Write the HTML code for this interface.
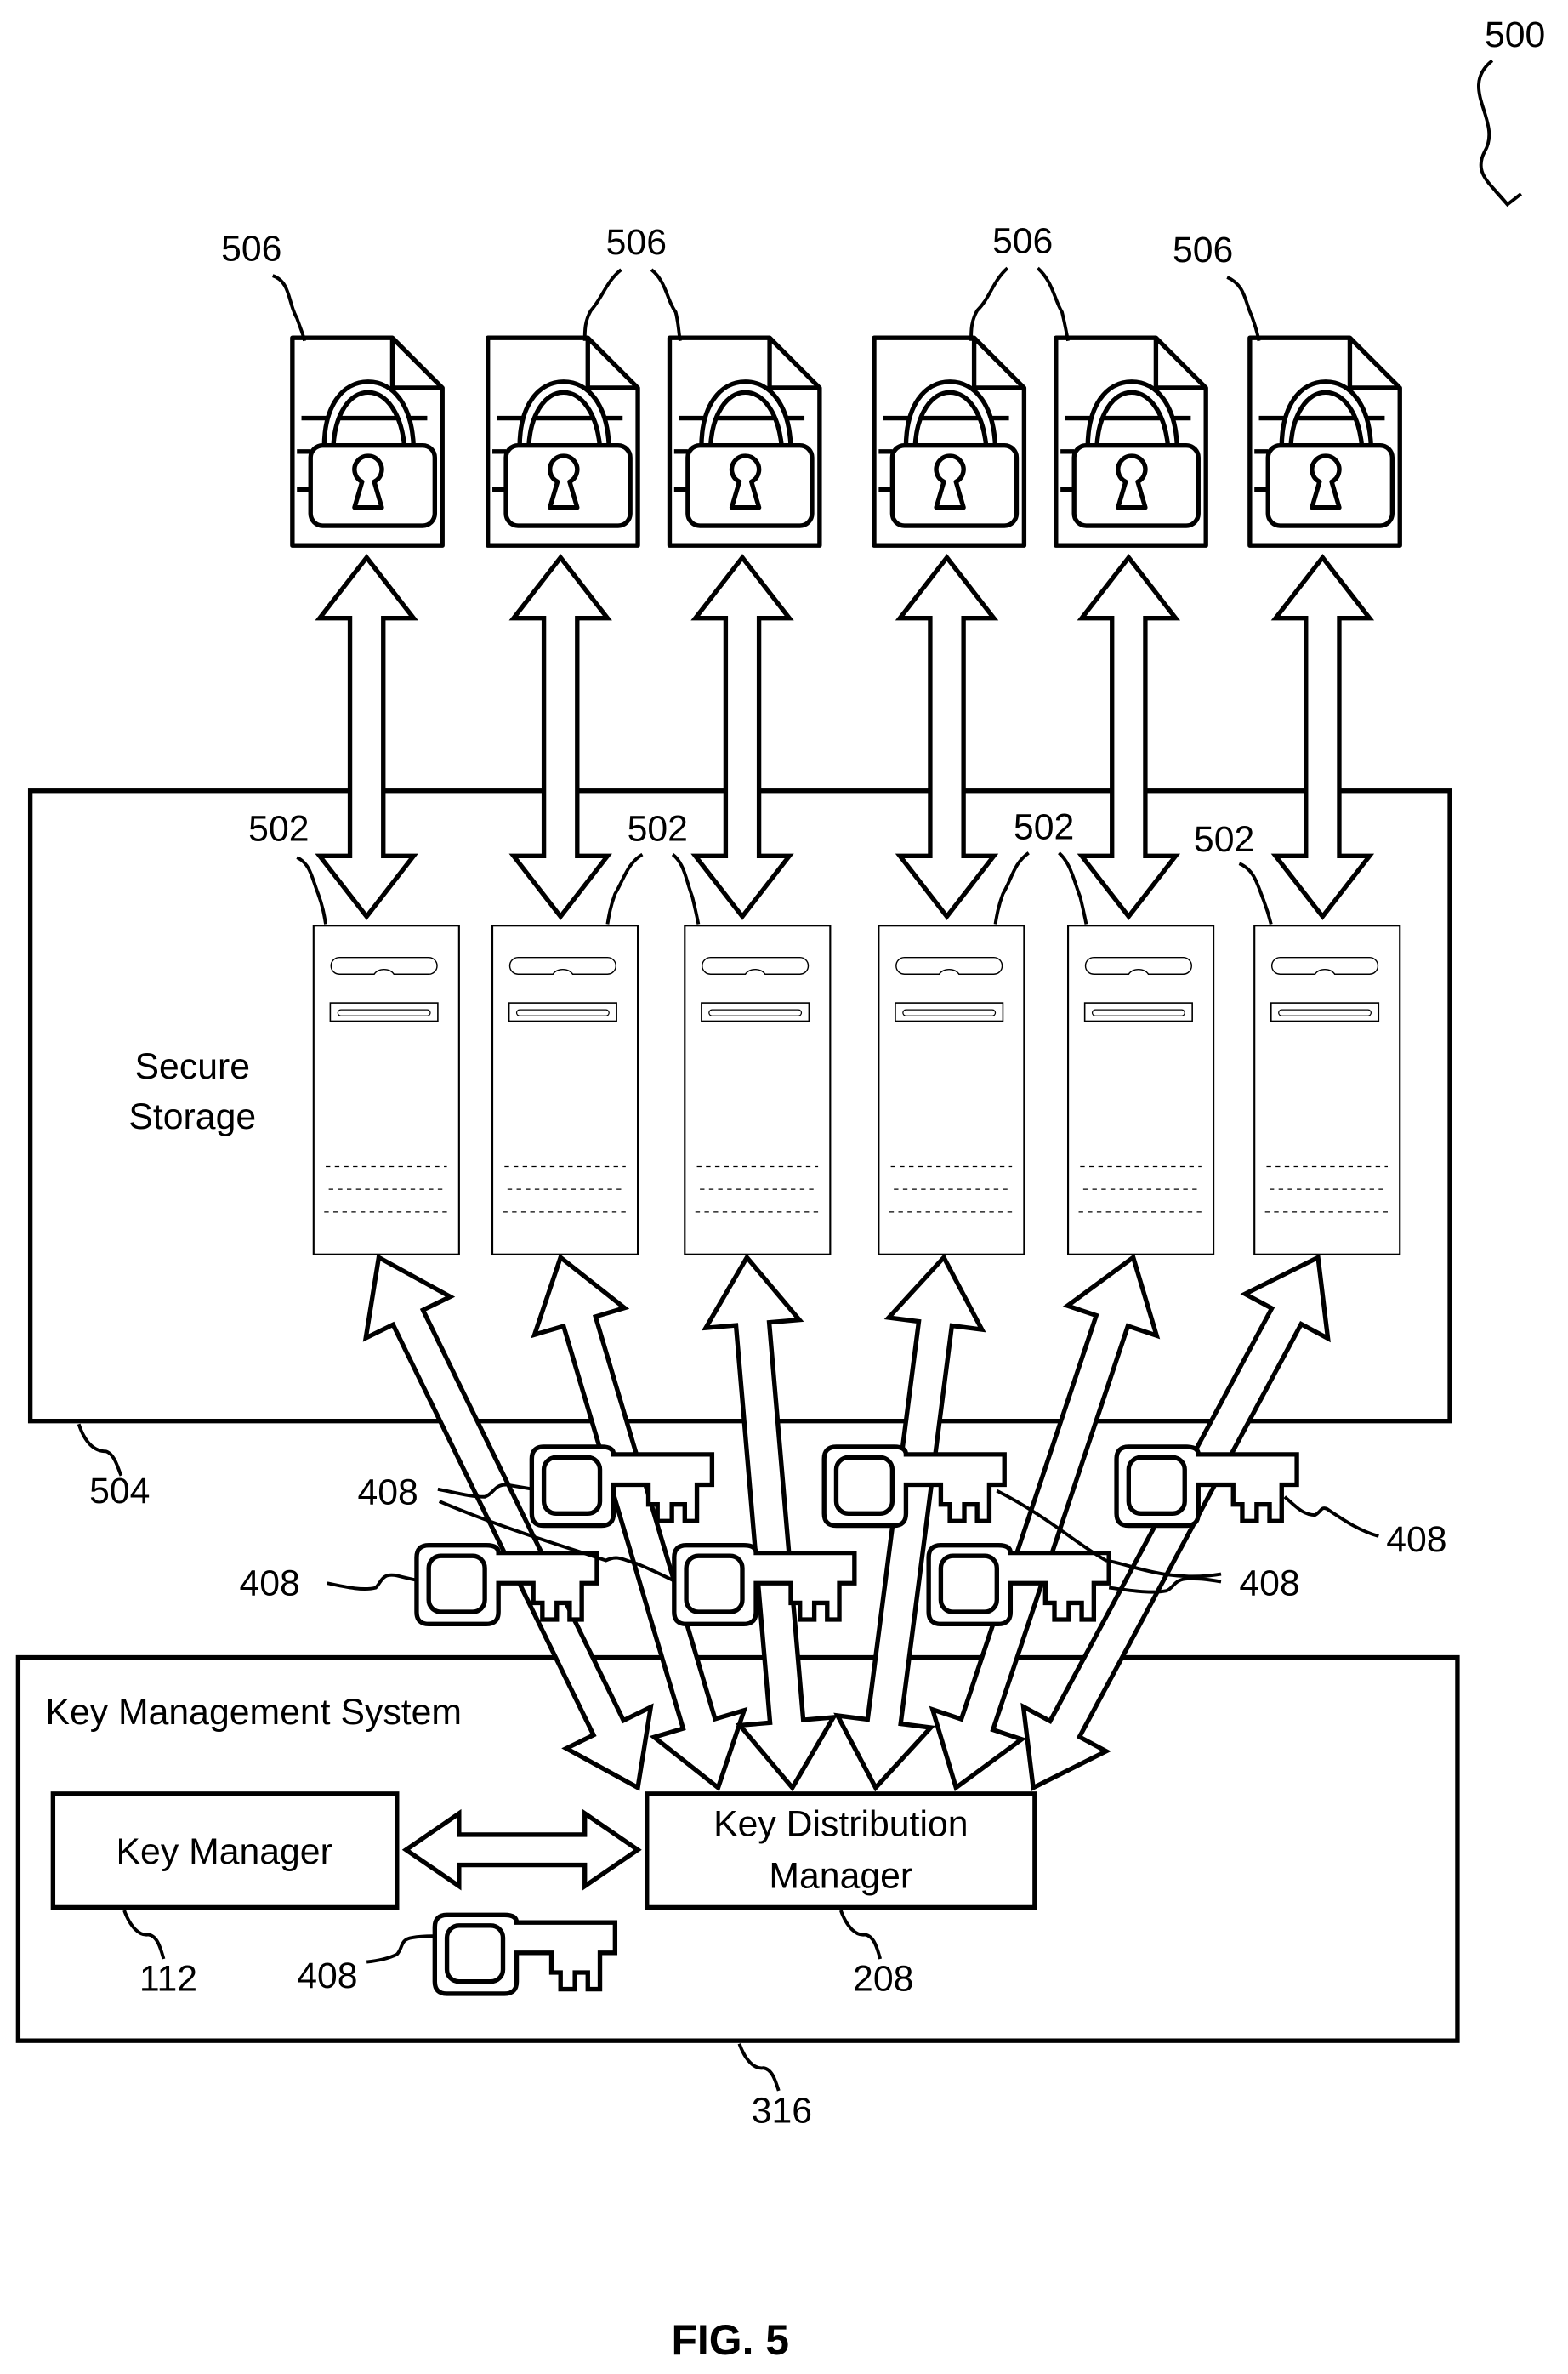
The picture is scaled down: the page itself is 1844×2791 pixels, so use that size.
<!DOCTYPE html>
<html><head><meta charset="utf-8"><style>
html,body{margin:0;padding:0;background:#fff;}
svg{display:block;}
text{font-family:"Liberation Sans",sans-serif;fill:#000;}
</style></head><body>
<svg width="1844" height="2791" viewBox="0 0 1035 1567" preserveAspectRatio="none" xmlns="http://www.w3.org/2000/svg">
<defs>
<g id="doc">
<path d="M0,0 H66 L99,33 V137 H0 Z" fill="#fff" stroke="#000" stroke-width="3" stroke-linejoin="round"/>
<path d="M66,0 V33 H99" fill="none" stroke="#000" stroke-width="3"/>
<path d="M6,53 H89" stroke="#000" stroke-width="3"/>
<path d="M3,75 H12 M3,100 H12" stroke="#000" stroke-width="3"/>
<path d="M21,72 C21,45 33,29 50,29 C67,29 79,45 80,72 L74,72 C72,50 62,36 50,36 C38,36 28,50 27,72 Z" fill="#fff" stroke="#000" stroke-width="3" stroke-linejoin="round"/>
<rect x="12" y="71" width="82" height="53" rx="8" fill="#fff" stroke="#000" stroke-width="3"/>
<path d="M46,95 A9,9 0 1 1 54,95 L59,112 H41 Z" fill="#fff" stroke="#000" stroke-width="3" stroke-linejoin="round"/>
</g>
<g id="srv">
<rect x="0" y="0" width="96" height="217" fill="#fff" stroke="#000" stroke-width="1.2"/>
<path d="M17,21 H76 A5.5,5.5 0 0 1 76,32 H53 A7,5 0 0 0 40,32 H17 A5.5,5.5 0 0 1 17,21 Z" fill="none" stroke="#000" stroke-width="0.8"/>
<rect x="11" y="51" width="71" height="12" fill="none" stroke="#000" stroke-width="0.9"/>
<rect x="16" y="55.5" width="61" height="4" rx="2" fill="none" stroke="#000" stroke-width="0.7"/>
<path d="M8,159 H88 M10,174 H88 M7,189 H89" stroke="#000" stroke-width="0.7" stroke-dasharray="3,3"/>
</g>
<g id="key">
<path d="M8,0 H46 Q54,0 54,5 H119 V25 H109 V49 H101 V38 H92.5 V49 H83 V38 H77 V25 H54 V44 Q54,52 46,52 H8 Q0,52 0,44 V8 Q0,0 8,0 Z" fill="#fff" stroke="#000" stroke-width="3" stroke-linejoin="miter"/>
<rect x="8" y="7" width="37" height="37" rx="8" fill="#fff" stroke="#000" stroke-width="3"/>
</g>
</defs>

<text x="980" y="31" font-size="24">500</text>
<path d="M985,40 C962,58 992,80 980,100 C972,115 985,122 995,135" fill="none" stroke="#000" stroke-width="2.2"/>
<path d="M987,126 L995,135 L1004,128" fill="none" stroke="#000" stroke-width="2.2"/>

<use href="#doc" x="193" y="223"/>
<use href="#doc" x="322" y="223"/>
<use href="#doc" x="442" y="223"/>
<use href="#doc" x="577" y="223"/>
<use href="#doc" x="697" y="223"/>
<use href="#doc" x="825" y="223"/>

<g font-size="24">
<text x="146" y="172">506</text>
<text x="400" y="168">506</text>
<text x="655" y="167">506</text>
<text x="774" y="173">506</text>
</g>
<g fill="none" stroke="#000" stroke-width="2.2">
<path d="M180,182 C192,186 190,200 196,210 C198,216 200,220 201,225"/>
<path d="M410,178 C400,186 398,196 390,205 C386,212 386,218 386,225"/>
<path d="M430,178 C440,186 440,198 446,206 C448,214 448,220 449,225"/>
<path d="M665,177 C655,186 654,196 645,205 C641,212 641,218 641,225"/>
<path d="M685,177 C695,186 696,198 701,206 C703,214 704,220 705,225"/>
<path d="M810,183 C822,188 822,200 826,208 C829,216 830,220 831,225"/>
</g>

<rect x="20" y="522" width="937" height="416" fill="#fff" stroke="#000" stroke-width="3"/>
<text x="127" y="712" font-size="24" text-anchor="middle">Secure</text>
<text x="127" y="745" font-size="24" text-anchor="middle">Storage</text>

<use href="#srv" x="207" y="611"/>
<use href="#srv" x="325" y="611"/>
<use href="#srv" x="452" y="611"/>
<use href="#srv" x="580" y="611"/>
<use href="#srv" x="705" y="611"/>
<use href="#srv" x="828" y="611"/>

<g fill="#fff" stroke="#000" stroke-width="3" stroke-linejoin="miter">
<g transform="translate(242,368) rotate(90)"><polygon points="0,0 40,-31 40,-11 197,-11 197,-31 237,0 197,31 197,11 40,11 40,31"/></g>
<g transform="translate(370,368) rotate(90)"><polygon points="0,0 40,-31 40,-11 197,-11 197,-31 237,0 197,31 197,11 40,11 40,31"/></g>
<g transform="translate(490,368) rotate(90)"><polygon points="0,0 40,-31 40,-11 197,-11 197,-31 237,0 197,31 197,11 40,11 40,31"/></g>
<g transform="translate(625,368) rotate(90)"><polygon points="0,0 40,-31 40,-11 197,-11 197,-31 237,0 197,31 197,11 40,11 40,31"/></g>
<g transform="translate(745,368) rotate(90)"><polygon points="0,0 40,-31 40,-11 197,-11 197,-31 237,0 197,31 197,11 40,11 40,31"/></g>
<g transform="translate(873,368) rotate(90)"><polygon points="0,0 40,-31 40,-11 197,-11 197,-31 237,0 197,31 197,11 40,11 40,31"/></g>
</g>

<g font-size="24">
<text x="164" y="555">502</text>
<text x="414" y="555">502</text>
<text x="669" y="554">502</text>
<text x="788" y="562">502</text>
</g>
<g fill="none" stroke="#000" stroke-width="2.2">
<path d="M196,566 C205,570 206,580 210,590 C213,598 214,604 215,610"/>
<path d="M424,564 C414,570 412,580 406,590 C403,598 402,604 401,610"/>
<path d="M444,564 C452,570 453,582 457,592 C459,600 460,605 461,610"/>
<path d="M679,563 C669,570 668,580 662,590 C659,598 658,604 657,610"/>
<path d="M699,563 C707,570 709,582 713,592 C715,600 716,605 717,610"/>
<path d="M818,570 C828,574 830,584 834,594 C837,602 838,606 839,610"/>
</g>

<path d="M52,940 C56,952 62,958 70,958 C76,960 78,970 80,974" fill="none" stroke="#000" stroke-width="2.2"/>
<text x="59" y="992" font-size="24">504</text>

<rect x="12" y="1094" width="950" height="253" fill="#fff" stroke="#000" stroke-width="3"/>
<text x="30" y="1138" font-size="24">Key Management System</text>

<g fill="#fff" stroke="#000" stroke-width="3" stroke-linejoin="miter">
<g transform="translate(250,830) rotate(63.96)"><polygon points="0,0 44,-31 44,-11 345.5,-11 345.5,-31 389.5,0 345.5,31 345.5,11 44,11 44,31"/></g>
<g transform="translate(370,830) rotate(73.45)"><polygon points="0,0 44,-31 44,-11 321.1,-11 321.1,-31 365.1,0 321.1,31 321.1,11 44,11 44,31"/></g>
<g transform="translate(493,830) rotate(85.10)"><polygon points="0,0 44,-31 44,-11 307.3,-11 307.3,-31 351.3,0 307.3,31 307.3,11 44,11 44,31"/></g>
<g transform="translate(623,830) rotate(97.33)"><polygon points="0,0 44,-31 44,-11 308.9,-11 308.9,-31 352.9,0 308.9,31 308.9,11 44,11 44,31"/></g>
<g transform="translate(748,830) rotate(108.48)"><polygon points="0,0 44,-31 44,-11 325,-11 325,-31 369,0 325,31 325,11 44,11 44,31"/></g>
<g transform="translate(870,830) rotate(118.24)"><polygon points="0,0 44,-31 44,-11 353.3,-11 353.3,-31 397.3,0 353.3,31 353.3,11 44,11 44,31"/></g>
</g>

<use href="#key" x="351" y="955"/>
<use href="#key" x="544" y="955"/>
<use href="#key" x="737" y="955"/>
<use href="#key" x="275" y="1020"/>
<use href="#key" x="445" y="1020"/>
<use href="#key" x="613" y="1020"/>

<g font-size="24">
<text x="236" y="993">408</text>
<text x="158" y="1053">408</text>
<text x="915" y="1024">408</text>
<text x="818" y="1053">408</text>
</g>
<g fill="none" stroke="#000" stroke-width="2.2">
<path d="M289,983 C300,985 310,988 320,988 C326,986 326,980 334,980 C340,981 346,982 352,983"/>
<path d="M290,991 C330,1008 370,1020 400,1030 C408,1026 412,1030 420,1032 C430,1036 438,1040 446,1044"/>
<path d="M216,1045 C230,1048 240,1050 248,1048 C252,1044 252,1038 262,1040 C266,1041 270,1042 275,1043"/>
<path d="M658,984 C690,1000 712,1020 730,1030 C745,1032 770,1045 806,1039"/>
<path d="M732,1048 C748,1050 760,1052 770,1050 C775,1048 775,1042 785,1042 C795,1042 800,1043 806,1044"/>
<path d="M848,988 C855,994 860,1000 868,1000 C872,998 872,994 876,996 C885,1002 896,1010 910,1014"/>
</g>

<rect x="35" y="1184" width="227" height="75" fill="#fff" stroke="#000" stroke-width="3"/>
<text x="148" y="1230" font-size="24" text-anchor="middle">Key Manager</text>
<rect x="427" y="1184" width="256" height="75" fill="#fff" stroke="#000" stroke-width="3"/>
<text x="555" y="1212" font-size="24" text-anchor="middle">Key Distribution</text>
<text x="555" y="1246" font-size="24" text-anchor="middle">Manager</text>

<polygon points="268,1221 303,1197 303,1211 386,1211 386,1197 421,1221 386,1245 386,1231 303,1231 303,1245" fill="#fff" stroke="#000" stroke-width="3"/>

<use href="#key" x="287" y="1264"/>
<path d="M242,1295 C252,1294 258,1292 262,1290 C266,1286 264,1280 272,1279 C278,1278 282,1278 287,1278" fill="none" stroke="#000" stroke-width="2.2"/>
<text x="196" y="1312" font-size="24">408</text>

<path d="M82,1261 C86,1272 92,1278 98,1277 C104,1278 106,1286 108,1293" fill="none" stroke="#000" stroke-width="2.2"/>
<text x="92" y="1314" font-size="24">112</text>
<path d="M555,1261 C559,1272 565,1278 571,1277 C577,1278 579,1286 581,1293" fill="none" stroke="#000" stroke-width="2.2"/>
<text x="563" y="1314" font-size="24">208</text>
<path d="M488,1349 C492,1360 498,1366 504,1365 C510,1366 512,1374 514,1380" fill="none" stroke="#000" stroke-width="2.2"/>
<text x="496" y="1401" font-size="24">316</text>

<text x="482" y="1554" font-size="28" font-weight="bold" text-anchor="middle">FIG. 5</text>
</svg>
</body></html>
